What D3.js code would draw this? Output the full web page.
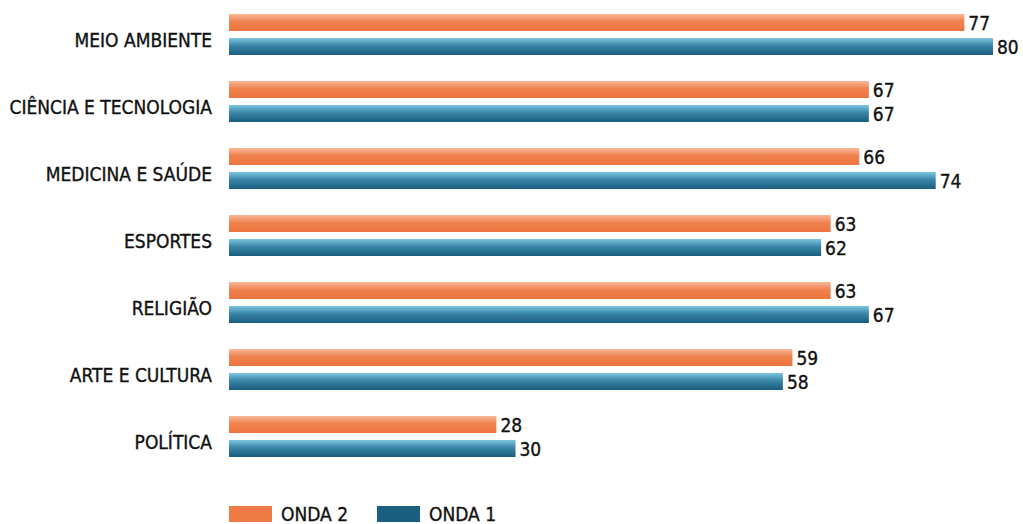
<!DOCTYPE html>
<html>
<head>
<meta charset="utf-8">
<script src="https://cdn.jsdelivr.net/npm/d3@7"></script>
<style>
  body { margin: 0; background: #fff; }
  text { font-family: "DejaVu Sans Condensed", "Liberation Sans Narrow", sans-serif; fill: #111; stroke: #111; stroke-width: 0.35; }
</style>
</head>
<body>
<svg id="chart"></svg>
<script>
var categories = ["MEIO AMBIENTE", "CIÊNCIA E TECNOLOGIA", "MEDICINA E SAÚDE", "ESPORTES", "RELIGIÃO", "ARTE E CULTURA", "POLÍTICA"];
var onda2 = [77, 67, 66, 63, 63, 59, 28];
var onda1 = [80, 67, 74, 62, 67, 58, 30];
var seriesNames = ["ONDA 2", "ONDA 1"];

var width = 1023, height = 524;
var svg = d3.select("#chart").attr("width", width).attr("height", height);

var defs = svg.append("defs");
var gOr = defs.append("linearGradient").attr("id", "gOr").attr("x1", 0).attr("y1", 0).attr("x2", 0).attr("y2", 1);
gOr.append("stop").attr("offset", "0%").attr("stop-color", "#f8b898");
gOr.append("stop").attr("offset", "45%").attr("stop-color", "#f0824f");
gOr.append("stop").attr("offset", "100%").attr("stop-color", "#ec743e");
var gBl = defs.append("linearGradient").attr("id", "gBl").attr("x1", 0).attr("y1", 0).attr("x2", 0).attr("y2", 1);
gBl.append("stop").attr("offset", "0%").attr("stop-color", "#7cc6e0");
gBl.append("stop").attr("offset", "45%").attr("stop-color", "#3a86a8");
gBl.append("stop").attr("offset", "100%").attr("stop-color", "#195d7e");

var x = d3.scaleLinear().domain([0, 80]).range([229, 993]);
var y = d3.scaleBand().domain(categories).range([14, 483]).paddingInner(0).paddingOuter(0);
var barH = 17, gap = 7;

var groups = svg.selectAll("g.cat")
  .data(categories)
  .enter()
  .append("g")
  .attr("class", "cat")
  .attr("transform", function(d) { return "translate(0," + y(d) + ")"; });

groups.append("text")
  .attr("x", 212)
  .attr("y", 33)
  .attr("text-anchor", "end")
  .attr("font-size", 19)
  .text(function(d) { return d; });

groups.append("rect")
  .attr("x", x(0))
  .attr("y", 0)
  .attr("height", barH)
  .attr("width", function(d, i) { return x(onda2[i]) - x(0); })
  .attr("fill", "url(#gOr)");

groups.append("rect")
  .attr("x", x(0))
  .attr("y", barH + gap)
  .attr("height", barH)
  .attr("width", function(d, i) { return x(onda1[i]) - x(0); })
  .attr("fill", "url(#gBl)");

groups.append("text")
  .attr("x", function(d, i) { return x(onda2[i]) + 4; })
  .attr("y", 15.5)
  .attr("font-size", 19)
  .text(function(d, i) { return onda2[i]; });

groups.append("text")
  .attr("x", function(d, i) { return x(onda1[i]) + 4; })
  .attr("y", 39.5)
  .attr("font-size", 19)
  .text(function(d, i) { return onda1[i]; });

// legend
var legend = [
  { name: seriesNames[0], color: "#ee7a45", x: 229 },
  { name: seriesNames[1], color: "#1b5f80", x: 377 }
];
var lg = svg.selectAll("g.leg").data(legend).enter().append("g")
  .attr("transform", function(d) { return "translate(" + d.x + ",506)"; });
lg.append("rect").attr("width", 43).attr("height", 16).attr("fill", function(d) { return d.color; });
lg.append("text").attr("x", 52).attr("y", 15).attr("font-size", 19).text(function(d) { return d.name; });
</script>
</body>
</html>
